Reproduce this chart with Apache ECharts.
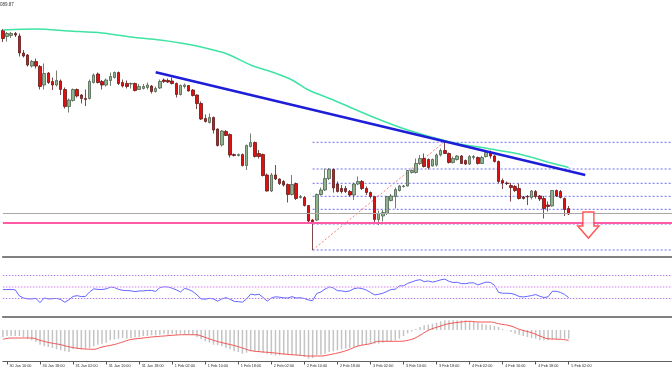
<!DOCTYPE html>
<html><head><meta charset="utf-8">
<script src="https://cdn.jsdelivr.net/npm/echarts@6/dist/echarts.min.js"></script>
<style>html,body{margin:0;padding:0;background:#fff}#c{width:672px;height:372px}</style>
</head><body><div id="c"></div>
<script>
// ---- data (hourly bars, 30 Jan 09:00 .. 5 Feb 02:00) ----
const tickLabels = ['30 Jan 10:00','30 Jan 18:00','31 Jan 02:00','31 Jan 10:00','31 Jan 18:00',
  '1 Feb 02:00','1 Feb 10:00','1 Feb 18:00','2 Feb 02:00','2 Feb 10:00','2 Feb 18:00',
  '3 Feb 02:00','3 Feb 10:00','3 Feb 18:00','4 Feb 02:00','4 Feb 10:00','4 Feb 18:00','5 Feb 02:00'];

const opens = [1069.5,1063.5,1064.5,1066.5,1064,1047,1045,1034,1038.5,1033.5,
 1015,1027,1018.5,1015,1019,1010.5,993.5,999.5,1010.5,1005,
 1001.5,1001.5,1017.5,1026,1018.5,1015,1019.5,1022.5,1027.5,1017.5,
 1016.5,1016,1016.5,1010.5,1011.5,1012.5,1014,1008.5,1012,1020,
 1019.5,1019,1016.5,1005.5,1013.5,1014.5,1010,1005,996.5,981.5,
 977.5,982.5,971,955,968.5,965.5,945.5,944.5,945.5,934.5,
 953.5,957.5,946.5,945.5,925,909,925,921,918.5,915.5,
 905.5,916.5,902.5,902.5,894.5,880,880,905.5,910,921.5,
 930.5,916,911.5,911.5,908.5,905,916,918.5,911.5,907.5,
 903.5,880.5,884,886.5,899.5,903.5,909.5,913.5,914,927.5,
 927.5,936.5,941.5,940.5,934,935,945,949.5,946.5,937.5,
 940.5,944,939.5,936,942.5,942.5,936.5,943.5,947.5,944,
 938.5,919.5,917,914.5,913.5,911.5,903,903.5,902.5,908.5,
 904,901.5,895,894,909.5,908.5,901.5,891.5];
const closes = [1061.5,1066.5,1066.5,1065,1047,1044,1035,1038.5,1034,1013.5,
 1026.5,1017.5,1015,1019.5,1010.5,993.5,1000,1010.5,1004,1001.5,
 1000.5,1018.5,1025,1017.5,1015,1020,1023.5,1027.5,1016.5,1014,
 1013.5,1016.5,1009.5,1013.5,1013.5,1015,1008.5,1011.5,1018.5,1018.5,
 1018,1016.5,1005.5,1014.5,1015,1009,1004.5,996.5,981,978.5,
 982.5,970,954.5,969,964.5,945,944.5,945.5,934.5,954.5,
 957.5,943.5,943.5,924.5,909,925,921,916.5,915,905.5,
 915.5,901.5,903.5,894.5,879,878,905.5,910,921.5,930.5,
 912,908.5,908.5,908.5,905,916,918.5,911.5,907.5,903.5,
 880.5,886.5,887.5,903.5,904,910.5,914,914,929.5,929.5,
 936.5,941.5,933.5,932.5,940.5,945,949.5,946.5,937.5,941.5,
 944,936.5,936,943.5,943.5,936.5,942.5,947.5,944,938.5,
 918.5,917,916.5,912.5,909.5,901.5,901.5,903,909,903.5,
 901,891.5,893.5,909.5,904,902.5,890.5,886];
const lows = [1058,1058.5,1062,1063,1043.5,1042.5,1033.5,1032.5,1031.5,1010.5,
 1010.5,1016,1010,1013.5,1005,991.5,987.5,998.5,1002.5,996.5,
 994,1000.5,1016.5,1016.5,1010.5,1013.5,1014,1021.5,1015,1012.5,
 1011.5,1011.5,1008.5,1010,1010.5,1010.5,1006.5,1007.5,1011,1017,
 1017,1015.5,1002.5,1004.5,1011.5,1008.5,1003.5,991,980,977.5,
 976.5,966.5,953.5,953.5,964,942.5,943.5,943.5,933.5,930,
 952.5,942.5,941.5,923.5,908.5,908,920,915,913.5,897.5,
 904.5,900,901.5,893.5,878,850,879,904.5,909,920,
 907.5,907.5,906.5,907,903.5,900,915,910,905,901.5,
 876,875,878.5,885,898.5,891.5,908.5,912.5,913.5,926.5,
 926.5,935,932.5,930.5,933.5,933.5,943.5,946,936.5,936.5,
 939.5,936,935,935,940.5,935.5,936,942.5,941.5,937.5,
 916.5,911,915,898.5,908,900.5,900.5,895,900.5,901.5,
 899,881.5,888.5,893.5,903,901.5,884,885];
const highs = [1071,1068,1068,1068,1066.5,1050,1046,1040,1041.5,1035,
 1036.5,1028,1022.5,1029.5,1020.5,1012.5,1001.5,1011.5,1011.5,1006,
 1010.5,1020.5,1026.5,1027.5,1020,1021.5,1027.5,1028.5,1028.5,1020.5,
 1019.5,1017.5,1017.5,1016,1016,1017.5,1015,1013.5,1020.5,1021.5,
 1021.5,1022.5,1017.5,1015.5,1016.5,1015,1011,1005.5,998.5,985.5,
 986.5,983.5,971.5,970,970,966.5,946.5,946.5,946.5,955.5,
 966.5,958.5,950,946.5,926.5,927,935,921.5,920,916.5,
 925,917.5,905,904,895,881,906.5,912.5,931.5,932,
 931.5,918.5,915,914,910,917.5,923.5,920,913.5,908.5,
 904,889.5,890,904,906,912.5,915,915,930,930.5,
 941.5,945,946.5,941.5,941.5,946.5,951.5,958.5,947.5,943.5,
 945,945,940.5,945,945,943.5,944,949.5,949.5,945,
 939.5,921.5,918.5,917,915,916.5,904,905,910,910,
 905,904,898.5,910,910.5,910,902.5,894];

// moving average: [bar index, price]
const maPoints = [[0,1070],[8,1071],[16,1069],[24,1067],[31,1063],[38,1060],[43,1057],[48,1053],
 [54,1046.5],[60,1035],[66,1026.7],[70,1020],[74,1010],[80,1000],[89,984],[98,970],[109,957.3],
 [117,951.7],[125,946],[133,936.7],[137,932.5]];
// blue trend line end points
const trendPoints = [[37,1027.7],[141,925]];
// fibonacci retracement (low bar 75 -> high bar 107)
const fibLevels = [957.7,931,916.7,903.7,890.7,876,850];
const fibStart = 75, fibEnd = 162;
const fibDiag = [[75,850],[107,958.5]];
const pinkLevel = 877.3;
const bidLevel = 886.7;
const arrowAt = [142, 875];

const rsiValues = [44.8,44.6,45.0,44.1,33.6,30.1,28.4,28.4,29.3,21.9,
 30.1,28.4,28.7,29.3,27.5,22.6,27.0,32.8,34.1,32.4,
 32.8,40.6,45.9,45.0,44.8,45.9,48.8,48.3,45.0,43.4,
 42.9,42.5,41.1,42.2,42.4,43.2,43.2,41.5,48.1,49.5,
 49.2,47.1,44.1,40.6,46.7,44.8,41.3,35.4,28.4,27.9,
 29.4,28.4,24.5,28.4,30.7,27.9,24.2,23.7,22.8,28.4,
 36.8,35.4,36.6,31.0,24.5,30.1,32.2,31.4,30.3,30.1,
 32.4,30.0,30.5,29.1,26.6,25.4,37.8,40.6,45.5,49.3,
 47.6,42.7,42.4,41.1,42.4,46.2,47.6,46.4,43.8,39.7,
 35.4,36.6,38.3,41.5,44.8,45.3,51.1,51.1,55.5,57.9,
 60.5,61.9,58.6,59.6,57.7,59.3,61.6,62.8,59.1,56.9,
 57.4,55.1,54.9,56.3,56.3,52.8,55.3,57.7,57.2,52.3,
 39.9,38.3,38.3,38.0,36.1,32.6,31.9,32.9,34.3,36.1,
 33.1,30.8,32.1,41.5,41.7,39.7,36.2,30.7];
const rsiLevels = [70, 50, 30];

const macdValues = [-7,-6,-6,-6,-6,-7,-8.7,-10.3,-12,-14.7,
 -16.3,-17,-18,-19.3,-20.3,-21.3,-22,-19.3,-18.7,-19.3,
 -18.7,-18,-16.3,-14.7,-13.7,-12.7,-10.3,-9.3,-8.7,-8,
 -8.7,-8,-7,-7,-6,-6,-5.3,-5.3,-4.7,-3.7,
 -4.7,-3.7,-4.7,-3.7,-4.7,-3.7,-4.7,-7,-9.3,-11.3,
 -12.7,-14.7,-15.3,-16.3,-18,-19.3,-21.3,-22,-23.7,-22.7,
 -21.3,-21.3,-22,-22.7,-23.7,-24.7,-25.3,-25.3,-24.7,-24.7,
 -24.5,-25,-25.3,-27,-28.7,-28,-25.3,-24.7,-23.7,-22,
 -21.3,-20.3,-19.3,-18.7,-18,-17,-16,-15.3,-14.7,-13.7,
 -13.7,-13.7,-12.7,-12,-11.3,-10.3,-8.7,-6,-3.5,-1.5,
 1,3,4.7,5.3,6.3,7.3,8.7,9.7,9.7,9.7,
 9.7,9.7,9.7,8.7,8,7.3,6.3,5.3,4.7,4,
 3,1,-0.3,-2,-3.7,-4.7,-6,-7,-8,-8.7,
 -10.3,-10.3,-10.3,-9.3,-9.3,-8.7,-8.7,-8.7];
const signalPoints = [[0,-9.3],[2,-8],[4,-8],[7,-8],[9,-10.3],[11,-12.4],[14,-14.7],[16,-16.8],
 [19,-18.7],[22,-19.3],[24,-17],[27,-14.5],[29,-12],[31,-9.5],[34,-8],[36,-7],[39,-6],[41,-5.3],
 [44,-4.7],[47,-4.8],[48,-6],[51,-10.3],[53,-12.6],[56,-15.5],[58,-18],[60,-20.6],[63,-22],[65,-22.6],
 [68,-24],[70,-24.7],[72,-25.3],[74,-26],[77,-26],[79,-24.8],[82,-22],[84,-19.3],[86,-16],[89,-13.7],
 [91,-11.3],[94,-11.3],[96,-11.3],[99,-9.3],[101,-5.3],[103,-0.3],[106,4],[108,6.3],[111,8],[113,8.7],
 [115,8],[118,8],[120,6.3],[123,4],[125,0.7],[128,-2.7],[130,-6],[132,-8.7],[135,-9.3],[137,-10.3]];

// ---- categories: hourly slots from 30 Jan 09:00 (extra empty slots to the right) ----
const NCAT = 163;
const cats = [];
for (let i = 0; i < NCAT; i++) {
  const h = 9 + i, d = Math.floor(h / 24), hh = h % 24;
  let day = 30 + d, mon = 'Jan';
  if (day > 31) { day -= 31; mon = 'Feb'; }
  cats.push(day + ' ' + mon + ' ' + String(hh).padStart(2, '0') + ':00');
}
const candles = opens.map((o, i) => [o, closes[i], lows[i], highs[i]]);
const isTick = (idx, val) => tickLabels.indexOf(val !== undefined ? val : cats[idx]) >= 0;

const GL = 2.87, GW = 669.4;
const sepLine = { show: true, onZero: false, lineStyle: { color: '#808080', width: 2 } };

const fibSeries = fibLevels.map(v => ({
  type: 'line', xAxisIndex: 0, yAxisIndex: 0, symbol: 'none', silent: true, z: 2,
  data: [[fibStart, v], [fibEnd, v]],
  lineStyle: { color: '#6c6cf4', width: 1, type: [2, 2] }
}));

const option = {
  animation: false,
  backgroundColor: '#ffffff',
  grid: [
    { left: GL, width: GW, top: 0, height: 257 },
    { left: GL, width: GW, top: 257.75, height: 59.25 },
    { left: GL, width: GW, top: 318, height: 43.5 }
  ],
  xAxis: [
    { type: 'category', gridIndex: 0, data: cats, boundaryGap: false, axisLine: sepLine,
      axisTick: { show: false }, axisLabel: { show: false }, splitLine: { show: false } },
    { type: 'category', gridIndex: 1, data: cats, boundaryGap: false, axisLine: sepLine,
      axisTick: { show: false }, axisLabel: { show: false }, splitLine: { show: false } },
    { type: 'category', gridIndex: 2, data: cats, boundaryGap: false,
      axisLine: { show: true, onZero: false, lineStyle: { color: '#606060', width: 1 } },
      axisTick: { show: true, interval: isTick, length: 3, lineStyle: { color: '#555', width: 1 } },
      axisLabel: { show: true, interval: isTick, align: 'left', margin: 2.5, padding: [0, 0, 0, 2.5],
        fontSize: 3.8, fontFamily: 'Liberation Sans', color: '#303030', formatter: v => v },
      splitLine: { show: false } }
  ],
  yAxis: [
    { type: 'value', gridIndex: 0, min: 843, max: 1100, show: false, splitLine: { show: false } },
    { type: 'value', gridIndex: 1, min: -3, max: 100, show: false, splitLine: { show: false } },
    { type: 'value', gridIndex: 2, min: -31.5, max: 12, show: false, splitLine: { show: false } }
  ],
  graphic: [
    { type: 'text', left: 0, top: 2, z: 100,
      style: { text: '089.87', fontSize: 4.5, fontFamily: 'Liberation Sans', fill: '#333' } }
  ],
  series: [
    ...fibSeries,
    { type: 'line', xAxisIndex: 0, yAxisIndex: 0, symbol: 'none', silent: true, z: 2,
      data: fibDiag, lineStyle: { color: '#ff7a7a', width: 1, type: [2, 2] } },
    { type: 'candlestick', xAxisIndex: 0, yAxisIndex: 0, data: candles, barWidth: 3, z: 3,
      itemStyle: { color: '#8fb28f', color0: '#e20f0f', borderColor: '#4f624f', borderColor0: '#5e1c1c', borderWidth: 0.8 },
      markLine: { silent: true, symbol: 'none', label: { show: false }, animation: false,
        data: [
          { yAxis: bidLevel, lineStyle: { color: '#a8a8a8', width: 1, type: 'solid' } },
          { yAxis: pinkLevel, lineStyle: { color: '#ff5aa5', width: 2, type: 'solid' } }
        ] } },
    { type: 'line', xAxisIndex: 0, yAxisIndex: 0, symbol: 'none', silent: true, z: 4, smooth: 0.3,
      data: maPoints, lineStyle: { color: '#3fe3a3', width: 1.5 } },
    { type: 'line', xAxisIndex: 0, yAxisIndex: 0, symbol: 'none', silent: true, z: 5,
      data: trendPoints, lineStyle: { color: '#1e1ed8', width: 2.5 } },
    { type: 'scatter', xAxisIndex: 0, yAxisIndex: 0, silent: true, z: 6,
      data: [arrowAt],
      symbol: 'path://M5,0L16,0L16,14L21,14L10.5,26L0,14L5,14Z', symbolSize: [21, 26], symbolOffset: [-1, 0],
      itemStyle: { color: '#ffffff', borderColor: '#ff2a2a', borderWidth: 1.5 } },
    { type: 'line', xAxisIndex: 1, yAxisIndex: 1, symbol: 'none', silent: true, z: 3,
      data: rsiValues, lineStyle: { color: '#6464ff', width: 1 },
      markLine: { silent: true, symbol: 'none', label: { show: false }, animation: false,
        data: rsiLevels.map(v => ({ yAxis: v, lineStyle: v === 50
          ? { color: '#e2a8f2', width: 1.5, type: [1.5, 1.5] }
          : { color: '#b07ee8', width: 1, type: [1.5, 1.5] } })) } },
    { type: 'bar', xAxisIndex: 2, yAxisIndex: 2, silent: true, barWidth: 1.5, z: 2,
      data: macdValues, itemStyle: { color: '#c4c4c4' } },
    { type: 'line', xAxisIndex: 2, yAxisIndex: 2, symbol: 'none', silent: true, z: 3, smooth: 0.4,
      data: signalPoints, lineStyle: { color: '#f25555', width: 1 } }
  ]
};
const chart = echarts.init(document.getElementById('c'), null, { renderer: 'canvas' });
chart.setOption(option);
</script></body></html>
